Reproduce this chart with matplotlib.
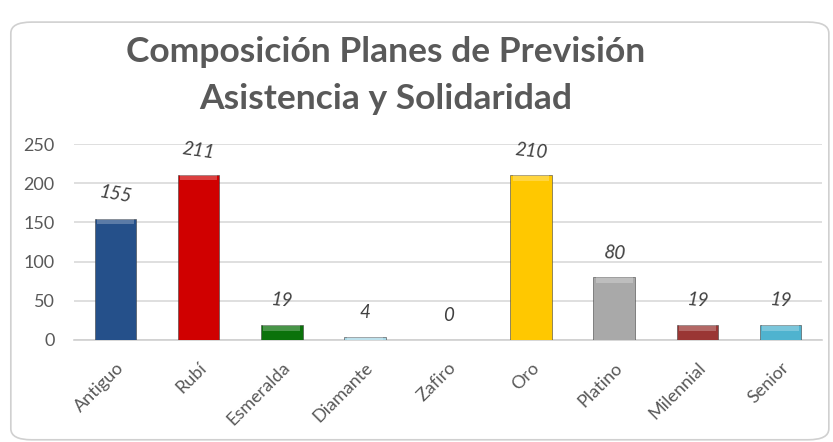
import numpy as np
import matplotlib.pyplot as plt
from matplotlib.patches import FancyBboxPatch

categories = ["Antiguo", "Rubí", "Esmeralda", "Diamante", "Zafiro", "Oro", "Platino", "Milennial", "Senior"]
values = [155, 211, 19, 4, 0, 210, 80, 19, 19]
bar_colors = ["#25508a", "#d00000", "#0b720b", "#a8d8e6", "#3070c0", "#ffc800", "#a9a9a9", "#9a3634", "#4fb3cf"]
label_rot = [-10, -8, -5, 0, 0, -6, -4, -5, -5]

plt.rcParams['font.family'] = ['Lato', 'DejaVu Sans']
text_col = "#595959"

fig = plt.figure(figsize=(8.33, 4.42), dpi=100)

# rounded frame
frame = FancyBboxPatch((0.013, 0.005), 0.982, 0.945, boxstyle="round,pad=0,rounding_size=0.025",
                       transform=fig.transFigure, facecolor="none", edgecolor="#d0d0d0", linewidth=1.2,
                       zorder=-1)
fig.patches.append(frame)

ax = fig.add_axes([0.0888, 0.2308, 0.898, 0.4432])
ax.patch.set_alpha(0)
x = np.arange(len(categories))
vals = np.array(values, dtype=float)

ax.bar(x, vals, width=0.5, color=bar_colors, edgecolor="#404040", linewidth=0.4, zorder=3)
# bevel strip at top of each bar
bev = np.minimum(vals, 7)
ax.bar(x, bev, bottom=vals - bev, width=0.44, color="white", alpha=0.25, linewidth=0, zorder=4)

for i, v in enumerate(values):
    ax.text(x[i], v + 31, str(v), ha="center", va="center", fontsize=13.5, style="italic",
            color="#404040", rotation=label_rot[i], zorder=5)

ax.set_xlim(-0.5, len(categories) - 0.5)
ax.set_ylim(0, 250)
ax.set_yticks([0, 50, 100, 150, 200, 250])
ax.yaxis.grid(True, color="#d9d9d9", linewidth=1.2, zorder=0)
ax.set_axisbelow(True)
for s in ["top", "right", "left"]:
    ax.spines[s].set_visible(False)
ax.spines["bottom"].set_color("#d0d0d0")
ax.spines["bottom"].set_linewidth(1.2)
ax.tick_params(axis="both", length=0, colors=text_col, labelsize=13)
ax.tick_params(axis="y", pad=14)
ax.tick_params(axis="x", pad=14)
ax.set_xticks(x)
ax.set_xticklabels(categories, rotation=45, ha="right", rotation_mode="anchor")

fig.text(0.463, 0.882, "Composición Planes de Previsión", ha="center", va="center",
         fontsize=25.5, fontweight="bold", color=text_col)
fig.text(0.463, 0.777, "Asistencia y Solidaridad", ha="center", va="center",
         fontsize=25.5, fontweight="bold", color=text_col)

fig.savefig("out.png", dpi=100)
